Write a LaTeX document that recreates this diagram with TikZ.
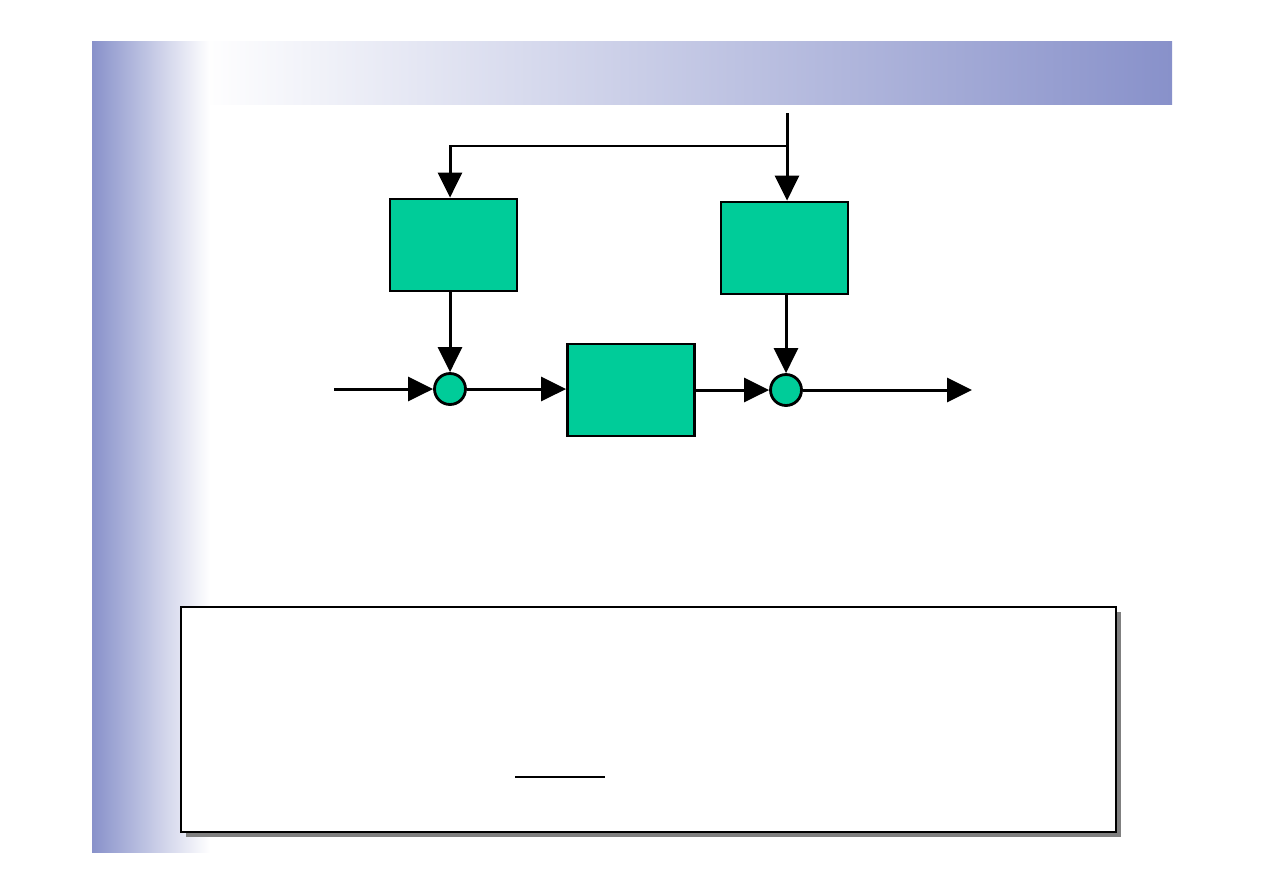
\documentclass[tikz,border=0pt]{standalone}
\usetikzlibrary{arrows.meta,shadows}
\definecolor{slideblue}{RGB}{136,145,202}
\definecolor{blockgreen}{RGB}{0,204,153}
\definecolor{shadowgray}{RGB}{128,128,128}
\begin{document}
\begin{tikzpicture}[x=0.02cm,y=-0.02cm,
  blk/.style={draw=black, line width=1.6pt, fill=blockgreen, minimum width=2.54cm, minimum height=1.84cm, inner sep=0pt},
  sumnode/.style={circle, draw=black, line width=1.6pt, fill=blockgreen, minimum size=0.62cm, inner sep=0pt},
  arr/.style={line width=1.7pt, -{Triangle[length=0.5cm,width=0.48cm]}},
  wire/.style={line width=1.7pt}]
\useasboundingbox (0,0) rectangle (1263,893);
\fill[white] (0,0) rectangle (1263,893);
% slide decoration
\shade[left color=white, right color=slideblue] (200,41) rectangle (1172,104);
\shade[left color=slideblue, right color=white] (92,41) rectangle (210,852);
% blocks
\node[blk] (L) at (453.5,245) {};
\node[blk] (R) at (784.5,248) {};
\node[blk] (M) at (631,390) {};
\node[sumnode] (c1) at (450,389) {};
\node[sumnode] (c2) at (786,390) {};
\coordinate (top) at (787,113);
\coordinate (j) at (787,146);
\coordinate (in) at (334,389);
\coordinate (out) at (972,390);
% connectors
\draw[arr] (top) -- (top |- R.north);
\draw[arr] (j) -| (c1 |- L.north);
\draw[arr] (L.south -| c1) -- (c1.north);
\draw[arr] (R.south -| c2) -- (c2.north);
\draw[arr] (in) -- (c1.west);
\draw[arr] (c1.east) -- (M.west |- c1);
\draw[arr] (M.east |- c2) -- (c2.west);
\draw[arr] (c2.east) -- (out);
% bottom box
\node[draw=black, line width=0.9pt, fill=white, minimum width=18.7cm, minimum height=4.5cm, inner sep=0pt,
  drop shadow={shadow xshift=0.1cm, shadow yshift=-0.1cm, fill=shadowgray, opacity=1}] (bbox) at (648.5,719.5) {};
\draw[line width=1.2pt] (515,777) -- (605,777);
\end{tikzpicture}
\end{document}
